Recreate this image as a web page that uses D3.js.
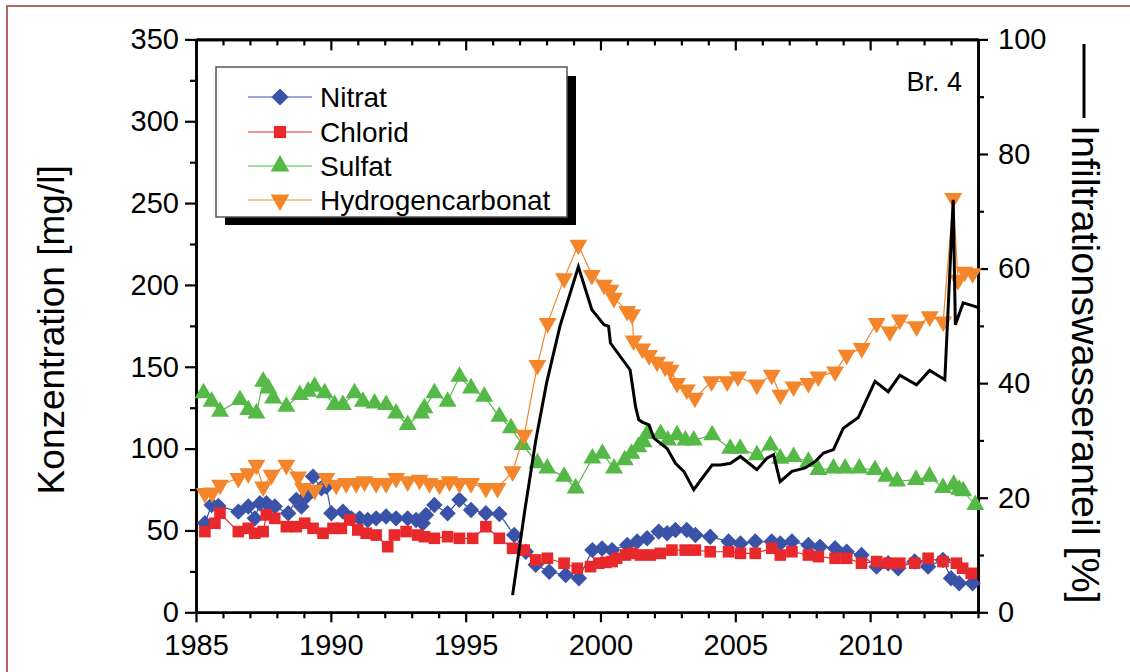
<!DOCTYPE html>
<html><head><meta charset="utf-8">
<script src="https://cdn.jsdelivr.net/npm/d3@7"></script>
<style>
html,body{margin:0;padding:0;background:#fff;}
svg{display:block;font-family:"Liberation Sans",Arial,sans-serif;}
</style></head>
<body><svg id="c" width="1130" height="672"></svg>
<script>
// ---------- DATA ----------
const nitratYears = [1985.33,1985.58,1985.83,1986.57,1986.94,1987.18,1987.37,1987.61,1987.92,1988.42,1988.72,1988.91,1989.09,1989.34,1989.65,1989.83,1990.02,1990.45,1990.76,1991.07,1991.37,1991.68,1992.05,1992.42,1992.85,1993.16,1993.41,1993.53,1993.84,1994.33,1994.77,1995.2,1995.75,1996.25,1996.8,1997.23,1997.6,1998.1,1998.71,1999.2,1999.7,2000.06,2000.43,2000.99,2001.36,2001.73,2002.16,2002.47,2002.78,2003.2,2003.52,2004.07,2004.75,2005.19,2005.74,2006.35,2006.67,2007.1,2007.71,2008.14,2008.7,2009.13,2009.68,2010.24,2010.67,2011.04,2011.65,2012.15,2012.7,2013.0,2013.3,2013.8];
const nitratValues = [54.4,65.6,65,61.5,64.6,57.4,66.6,66.6,64.6,60.5,68.7,64.6,70.7,82.9,75.8,76.8,60.5,61.5,57.4,57.4,56.4,57.4,58.5,57.4,57.4,56.4,54.4,59.5,65.6,60.5,68.7,62.5,60.5,60,47.2,37,29,24.8,22.8,20.8,38,39,38,41.1,43.2,45.2,49.3,48.3,50.3,50.3,47.2,46.2,43.2,42.1,43.2,43.2,42.1,43.2,41.1,40.1,39.1,37,35,27.9,30,26.9,31,27.9,32,20.8,17.7,17.7];

const chloridYears = [1985.33,1985.7,1985.89,1986.57,1986.94,1987.18,1987.49,1987.61,1987.92,1988.35,1988.72,1989.03,1989.34,1989.71,1990.08,1990.39,1990.7,1991.0,1991.31,1991.68,1992.11,1992.36,1992.79,1993.22,1993.47,1993.84,1994.33,1994.77,1995.26,1995.75,1996.25,1996.74,1997.17,1997.6,1998.03,1998.65,1999.14,1999.63,1999.94,2000.2,2000.43,2000.6,2000.93,2001.17,2001.48,2001.85,2002.22,2002.65,2003.14,2003.52,2004.07,2004.75,2005.19,2005.74,2006.35,2006.67,2007.1,2007.71,2008.08,2008.7,2009.13,2009.68,2010.24,2010.67,2011.1,2011.65,2012.15,2012.7,2013.2,2013.43,2013.75];
const chloridValues = [49.3,54.4,60.5,49.3,51.3,48.3,49.3,59.5,57.4,52.3,52.3,54.4,51.3,48.3,51.3,51.3,56.4,50.3,48.3,47.2,40.1,47.2,49.3,47.2,46.2,45.2,46.2,45.2,45.2,52.3,45.2,39.1,38,32,33,30,26.9,27.9,30,30.5,31,33,35,36,35,35,36,38,38,38,37,37,36,36,39.1,35,37,35,34,33,33,30,31,30,30,30,33,31,30,26.9,23.8];

const sulfatYears = [1985.28,1985.58,1985.89,1986.63,1986.94,1987.24,1987.49,1987.68,1987.86,1988.35,1988.85,1989.16,1989.4,1989.77,1990.14,1990.45,1990.88,1991.19,1991.62,1992.05,1992.42,1992.85,1993.35,1993.47,1993.84,1994.33,1994.77,1995.2,1995.69,1996.25,1996.68,1997.11,1997.66,1998.03,1998.65,1999.08,1999.7,2000.07,2000.5,2000.9,2001.15,2001.4,2001.6,2001.73,2002.23,2002.5,2002.84,2003.15,2003.46,2004.14,2004.81,2005.18,2005.8,2006.3,2006.67,2007.16,2007.71,2008.08,2008.64,2009.07,2009.6,2010.18,2010.6,2011.0,2011.7,2012.2,2012.7,2013.1,2013.3,2013.45,2013.9];
const sulfatValues = [133.9,128.7,122.6,129.8,123.7,121.6,141,136.9,130.8,125.7,132.8,134.9,137.9,133.9,126.7,126.7,133.9,128.7,127.7,126.7,121.6,114.5,121.6,124.7,133.9,128.7,144,136.9,131.8,119.6,112.5,102.3,91.1,88,82.9,75.8,94.1,97,88,93,97,101,104,109,109,105,108.3,105,105,108.3,100,100,96,102,94,95,92,87,88,88,88,87,83,80,81,83,76,78,75,74,65.6];

const hco3Years = [1985.33,1985.6,1985.89,1986.57,1986.94,1987.24,1987.49,1987.8,1988.35,1988.79,1988.97,1989.4,1989.83,1990.2,1990.57,1990.94,1991.25,1991.68,1992.05,1992.42,1992.85,1993.29,1993.66,1994.03,1994.4,1994.77,1995.2,1995.75,1996.18,1996.74,1997.17,1997.66,1998.04,1998.65,1999.18,1999.68,2000.13,2000.37,2000.5,2000.99,2001.17,2001.23,2001.55,2001.8,2002.1,2002.4,2002.6,2002.84,2003.2,2003.5,2004.12,2004.7,2005.1,2005.8,2006.35,2006.67,2007.16,2007.71,2008.08,2008.7,2009.13,2009.69,2010.24,2010.73,2011.1,2011.72,2012.21,2012.71,2013.08,2013.26,2013.5,2013.8];
const hco3Values = [72.7,73,77.8,81.9,84.9,90,76.8,83.9,90,82.9,75.8,74.7,81.9,77.8,78.8,78.8,79.9,78.8,78.8,81.9,79.9,80.9,78.8,77.8,79.9,78.8,78.8,75.8,75.8,86,108.3,151,176.7,204,224.5,206,200,197,192,184,182,166,161,157,153,150,148,140,136,131,141,141,144,139,145,132.8,137.9,140,144,147,157.3,161.3,176.6,171.5,178.7,174.6,180.7,177.6,253,203,208,207];

const infilYears = [1996.74,1997.2,1997.6,1998.0,1998.5,1999.18,1999.68,2000.13,2000.3,2000.37,2001.1,2001.3,2001.42,2001.55,2001.8,2001.98,2002.47,2002.78,2003.09,2003.46,2003.77,2004.14,2004.45,2004.82,2005.19,2005.8,2006.17,2006.42,2006.66,2007.1,2007.59,2007.96,2008.27,2008.64,2009.0,2009.26,2009.56,2010.18,2010.67,2011.1,2011.72,2012.21,2012.77,2013.08,2013.16,2013.45,2013.88,2014.0];
const infilValues = [3,18,30,40,50,60.3,52.8,50.2,49.9,47,42.3,35.9,33.6,33.2,32.7,30.4,28.6,26,24.6,21.4,23.4,25.7,25.7,26,27.2,24.9,26.9,27.5,22.8,24.6,25.2,26.3,27.8,28.4,32.1,33,34,40.3,38.5,41.4,39.7,42.2,40.6,72,50.2,54,53.4,53.2];

const seriesNames = ["Nitrat","Chlorid","Sulfat","Hydrogencarbonat"];
const xMajorTicks = [1985,1990,1995,2000,2005,2010];
const yLeftTicks = [0,50,100,150,200,250,300,350];
const yRightTicks = [0,20,40,60,80,100];
const leftTitle = "Konzentration [mg/l]";
const rightTitle = "Infiltrationswasseranteil [%]";
const wellLabel = "Br. 4";

// ---------- SETUP ----------
const svg = d3.select("#c");
const L = 196, R = 978, T = 39.4, B = 612.3;
const x = d3.scaleLinear().domain([1985, 2014]).range([L, R]);
const yL = d3.scaleLinear().domain([0, 350]).range([B, T]);
const yR = d3.scaleLinear().domain([0, 100]).range([B, T]);

// frame border
svg.append("rect").attr("x",7).attr("y",6).attr("width",1300).attr("height",800)
  .attr("fill","none").attr("stroke","#a5433f").attr("stroke-width",1.6);

const FS = 29;
function styleAxis(g){
  g.select(".domain").attr("stroke","#000").attr("stroke-width",2.6);
  g.selectAll(".tick line").attr("stroke","#000").attr("stroke-width",2.2);
  g.selectAll(".tick text").attr("fill","#000").style("font-size",FS+"px")
    .style("font-family","'Liberation Sans',Arial,sans-serif");
}
const yearsAll = d3.range(1985, 2015);
const minorYears = yearsAll.filter(v => !xMajorTicks.includes(v));

// bottom axis
const gB = svg.append("g").attr("transform",`translate(0,${B})`);
gB.call(d3.axisBottom(x).tickValues(xMajorTicks).tickFormat(d3.format("d")).tickSizeInner(10).tickSizeOuter(0).tickPadding(12));
styleAxis(gB);
const gBm = svg.append("g").attr("transform",`translate(0,${B})`);
gBm.call(d3.axisBottom(x).tickValues(minorYears).tickFormat("").tickSizeInner(6).tickSizeOuter(0));
styleAxis(gBm);

// top axis (inward ticks)
const gT = svg.append("g").attr("transform",`translate(0,${T})`);
gT.call(d3.axisTop(x).tickValues(xMajorTicks).tickFormat("").tickSizeInner(-11).tickSizeOuter(0));
styleAxis(gT);
const gTm = svg.append("g").attr("transform",`translate(0,${T})`);
gTm.call(d3.axisTop(x).tickValues(minorYears).tickFormat("").tickSizeInner(-6).tickSizeOuter(0));
styleAxis(gTm);

// left axis
const gLax = svg.append("g").attr("transform",`translate(${L},0)`);
gLax.call(d3.axisLeft(yL).tickValues(yLeftTicks).tickFormat(d3.format("d")).tickSizeInner(11).tickSizeOuter(0).tickPadding(6));
styleAxis(gLax);
const gLm = svg.append("g").attr("transform",`translate(${L},0)`);
gLm.call(d3.axisLeft(yL).tickValues(d3.range(25,350,50)).tickFormat("").tickSizeInner(6).tickSizeOuter(0));
styleAxis(gLm);

// right axis
const gRax = svg.append("g").attr("transform",`translate(${R},0)`);
gRax.call(d3.axisRight(yR).tickValues(yRightTicks).tickFormat(d3.format("d")).tickSizeInner(10).tickSizeOuter(0).tickPadding(10));
styleAxis(gRax);
const gRm = svg.append("g").attr("transform",`translate(${R},0)`);
gRm.call(d3.axisRight(yR).tickValues(d3.range(10,100,20)).tickFormat("").tickSizeInner(6).tickSizeOuter(0));
styleAxis(gRm);

// axis titles
svg.append("text").attr("transform",`translate(64,${(T+B)/2 + 4}) rotate(-90)`)
  .attr("text-anchor","middle").style("font-size","37px").attr("fill","#000").text(leftTitle);
svg.append("line").attr("x1",1084).attr("x2",1084).attr("y1",44).attr("y2",118)
  .attr("stroke","#000").attr("stroke-width",3);
svg.append("text").attr("transform",`translate(1072,125) rotate(90)`)
  .attr("text-anchor","start").style("font-size","39.5px").attr("fill","#000").text(rightTitle);

// ---------- SERIES ----------
const colors = {Nitrat:"#3a52a8", Chlorid:"#e8282a", Sulfat:"#55b947", Hydrogencarbonat:"#f4852b"};
const symbols = {
  Nitrat: {type:d3.symbolSquare, size:135, rot:45},
  Chlorid: {type:d3.symbolSquare, size:135, rot:0},
  Sulfat: {type:d3.symbolTriangle, size:140, rot:0},
  Hydrogencarbonat: {type:d3.symbolTriangle, size:140, rot:180}
};
const seriesData = [
  {name:"Nitrat", xs:nitratYears, ys:nitratValues},
  {name:"Chlorid", xs:chloridYears, ys:chloridValues},
  {name:"Sulfat", xs:sulfatYears, ys:sulfatValues},
  {name:"Hydrogencarbonat", xs:hco3Years, ys:hco3Values}
];
const plot = svg.append("g");
seriesData.forEach(s => {
  const pts = s.xs.map((v,i)=>[v, s.ys[i]]);
  const g = plot.append("g");
  g.append("path").datum(pts).attr("fill","none").attr("stroke",colors[s.name]).attr("stroke-width",1.2)
    .attr("d", d3.line().x(d=>x(d[0])).y(d=>yL(d[1])));
  const sym = symbols[s.name];
  g.selectAll("path.m").data(pts).join("path").attr("class","m")
    .attr("d", d3.symbol().type(sym.type).size(sym.size))
    .attr("transform", d=>`translate(${x(d[0])},${yL(d[1])}) rotate(${sym.rot})`)
    .attr("fill", colors[s.name]);
});
// infiltration line
const infPts = infilYears.map((v,i)=>[v, infilValues[i]]);
plot.append("path").datum(infPts).attr("fill","none").attr("stroke","#000").attr("stroke-width",3)
  .attr("stroke-linejoin","miter")
  .attr("d", d3.line().x(d=>x(d[0])).y(d=>yR(d[1])));

// well label
svg.append("text").attr("x",962).attr("y",91).attr("text-anchor","end")
  .style("font-size","27px").attr("fill","#000").text(wellLabel);

// ---------- LEGEND ----------
const lg = svg.append("g");
lg.append("rect").attr("x",225).attr("y",76).attr("width",351).attr("height",149).attr("fill","#000");
lg.append("rect").attr("x",216).attr("y",67).attr("width",351).attr("height",150)
  .attr("fill","#fff").attr("stroke","#555").attr("stroke-width",1.5);
const rowY = [97, 132, 166, 200];
seriesNames.forEach((n,i) => {
  const yy = rowY[i];
  lg.append("line").attr("x1",248).attr("x2",312).attr("y1",yy).attr("y2",yy)
    .attr("stroke",colors[n]).attr("stroke-width",1.2);
  const sym = symbols[n];
  lg.append("path").attr("d", d3.symbol().type(sym.type).size(sym.size*1.1)())
    .attr("transform",`translate(280,${yy}) rotate(${sym.rot})`).attr("fill",colors[n]);
  lg.append("text").attr("x",320).attr("y",yy+10).style("font-size","28px").attr("fill","#000").text(n);
});
</script></body></html>
